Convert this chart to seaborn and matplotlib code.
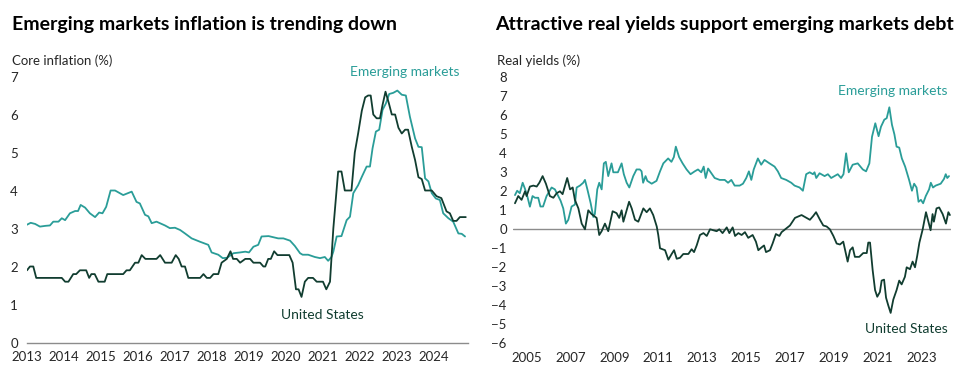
import matplotlib
matplotlib.use("Agg")
import matplotlib.pyplot as plt
import numpy as np
import seaborn as sns

# ---- Left panel: core inflation (%) ----
us_infl_t = [2013.0, 2013.08, 2013.17, 2013.25, 2013.94, 2014.03, 2014.12, 2014.25, 2014.33, 2014.43,
             2014.6, 2014.68, 2014.74, 2014.83, 2014.93, 2015.1, 2015.17, 2015.6, 2015.69, 2015.78,
             2015.92, 2016.01, 2016.1, 2016.2, 2016.5, 2016.6, 2016.73, 2016.91, 2017.02, 2017.1,
             2017.18, 2017.27, 2017.36, 2017.68, 2017.77, 2017.86, 2017.95, 2018.04, 2018.17, 2018.26,
             2018.4, 2018.5, 2018.57, 2018.67, 2018.76, 2018.9, 2019.03, 2019.12, 2019.3, 2019.39,
             2019.44, 2019.52, 2019.59, 2019.68, 2019.77, 2020.09, 2020.18, 2020.27, 2020.34, 2020.42,
             2020.51, 2020.6, 2020.73, 2020.83, 2021.0, 2021.09, 2021.19, 2021.28, 2021.41, 2021.5,
             2021.59, 2021.77, 2021.86, 2021.95, 2022.05, 2022.14, 2022.22, 2022.29, 2022.36, 2022.45,
             2022.54, 2022.61, 2022.69, 2022.78, 2022.86, 2022.95, 2023.04, 2023.13, 2023.22, 2023.3,
             2023.4, 2023.49, 2023.58, 2023.67, 2023.76, 2023.94, 2024.07, 2024.2, 2024.34, 2024.43,
             2024.52, 2024.61, 2024.7, 2024.86]
us_infl_v = [1.9, 2.0, 2.0, 1.7, 1.7, 1.6, 1.6, 1.8, 1.8, 1.9,
             1.9, 1.7, 1.8, 1.8, 1.6, 1.6, 1.8, 1.8, 1.9, 1.9,
             2.1, 2.1, 2.3, 2.2, 2.2, 2.3, 2.1, 2.1, 2.3, 2.2,
             2.0, 2.0, 1.7, 1.7, 1.8, 1.7, 1.7, 1.8, 1.8, 2.1,
             2.2, 2.4, 2.2, 2.2, 2.1, 2.2, 2.2, 2.1, 2.1, 2.0,
             2.0, 2.2, 2.2, 2.4, 2.3, 2.3, 2.1, 1.4, 1.4, 1.2,
             1.6, 1.7, 1.7, 1.6, 1.6, 1.4, 1.6, 3.0, 4.5, 4.5,
             4.0, 4.0, 5.0, 5.5, 6.1, 6.45, 6.5, 6.5, 6.0, 5.9,
             5.9, 6.25, 6.6, 6.3, 6.0, 6.0, 5.65, 5.5, 5.6, 5.6,
             5.15, 4.8, 4.35, 4.3, 4.0, 4.0, 3.85, 3.8, 3.45, 3.4,
             3.2, 3.2, 3.3, 3.3]

em_infl_t = [2013.0, 2013.1, 2013.22, 2013.35, 2013.5, 2013.62, 2013.71, 2013.85, 2013.94, 2014.03,
             2014.16, 2014.3, 2014.38, 2014.45, 2014.57, 2014.7, 2014.84, 2014.95, 2015.04, 2015.14,
             2015.26, 2015.38, 2015.6, 2015.83, 2015.96, 2016.05, 2016.19, 2016.28, 2016.37, 2016.5,
             2016.73, 2016.86, 2017.0, 2017.14, 2017.27, 2017.45, 2017.68, 2017.9, 2017.99, 2018.17,
             2018.29, 2018.41, 2018.58, 2018.76, 2018.9, 2019.0, 2019.12, 2019.25, 2019.34, 2019.53,
             2019.79, 2019.93, 2020.11, 2020.24, 2020.38, 2020.45, 2020.6, 2020.78, 2020.92, 2021.05,
             2021.14, 2021.23, 2021.28, 2021.37, 2021.5, 2021.64, 2021.73, 2021.82, 2021.95, 2022.05,
             2022.18, 2022.27, 2022.34, 2022.43, 2022.52, 2022.61, 2022.7, 2022.79, 2022.9, 2023.01,
             2023.13, 2023.24, 2023.35, 2023.49, 2023.58, 2023.67, 2023.76, 2023.85, 2023.94, 2024.05,
             2024.16, 2024.25, 2024.39, 2024.52, 2024.66, 2024.75, 2024.84]
em_infl_v = [3.1, 3.15, 3.12, 3.05, 3.07, 3.08, 3.18, 3.18, 3.27, 3.22,
             3.4, 3.46, 3.46, 3.62, 3.55, 3.4, 3.3, 3.42, 3.4, 3.57,
             4.0, 4.0, 3.88, 3.97, 3.7, 3.66, 3.36, 3.32, 3.14, 3.18,
             3.08, 3.01, 3.02, 2.96, 2.87, 2.74, 2.65, 2.57, 2.37, 2.31,
             2.22, 2.23, 2.35, 2.37, 2.39, 2.37, 2.52, 2.57, 2.79, 2.8,
             2.74, 2.74, 2.68, 2.54, 2.35, 2.31, 2.31, 2.25, 2.22, 2.25,
             2.15, 2.25, 2.39, 2.79, 2.8, 3.22, 3.31, 3.93, 4.14, 4.36,
             4.63, 4.63, 5.11, 5.55, 5.6, 6.12, 6.29, 6.54, 6.57, 6.63,
             6.52, 6.5, 5.94, 5.37, 5.15, 5.14, 4.32, 4.24, 3.93, 3.79,
             3.75, 3.4, 3.27, 3.18, 2.87, 2.86, 2.79]

# ---- Right panel: real yields (%) ----
em_yld_t = [2004.47, 2004.57, 2004.69, 2004.82, 2004.92, 2005.03, 2005.15, 2005.27, 2005.38, 2005.53,
            2005.63, 2005.75, 2005.91, 2006.14, 2006.29, 2006.44, 2006.55, 2006.67, 2006.79, 2006.9,
            2007.05, 2007.2, 2007.28, 2007.43, 2007.58, 2007.66, 2007.77, 2007.92, 2008.04, 2008.11,
            2008.22, 2008.31, 2008.42, 2008.52, 2008.61, 2008.72, 2008.87, 2008.95, 2009.16, 2009.33,
            2009.43, 2009.56, 2009.68, 2009.86, 2010.01, 2010.16, 2010.24, 2010.31, 2010.42, 2010.5,
            2010.7, 2010.92, 2011.08, 2011.23, 2011.45, 2011.6, 2011.71, 2011.8, 2011.95, 2012.11,
            2012.29, 2012.47, 2012.66, 2012.81, 2012.96, 2013.07, 2013.16, 2013.27, 2013.42, 2013.57,
            2013.8, 2014.03, 2014.18, 2014.33, 2014.48, 2014.71, 2014.86, 2015.01, 2015.13, 2015.24,
            2015.35, 2015.54, 2015.69, 2015.84, 2016.07, 2016.3, 2016.45, 2016.6, 2016.83, 2017.06,
            2017.21, 2017.44, 2017.59, 2017.74, 2017.9, 2018.05, 2018.12, 2018.2, 2018.35, 2018.58,
            2018.73, 2018.88, 2019.03, 2019.18, 2019.33, 2019.44, 2019.56, 2019.68, 2019.86, 2020.09,
            2020.32, 2020.47, 2020.62, 2020.74, 2020.89, 2021.04, 2021.15, 2021.3, 2021.41, 2021.53,
            2021.65, 2021.76, 2021.86, 2021.98, 2022.1, 2022.25, 2022.43, 2022.56, 2022.66, 2022.77,
            2022.86, 2022.97, 2023.07, 2023.19, 2023.34, 2023.42, 2023.52, 2023.64, 2023.87, 2024.02,
            2024.1, 2024.17, 2024.25]
em_yld_v = [1.8, 2.03, 1.9, 2.45, 2.15, 1.75, 1.19, 1.75, 1.66, 1.66,
            1.2, 1.2, 1.75, 2.2, 2.1, 1.75, 1.5, 1.1, 0.3, 0.5,
            1.2, 1.3, 2.2, 2.3, 2.45, 2.6, 2.1, 1.37, 0.65, 0.8,
            2.1, 2.45, 2.1, 3.47, 3.55, 2.8, 3.47, 3.0, 3.0, 3.47,
            2.9, 2.45, 2.2, 2.8, 3.15, 3.15, 3.05, 2.45, 2.8, 2.55,
            2.4, 2.55, 3.05, 3.47, 3.73, 3.55, 3.8, 4.35, 3.8, 3.47,
            3.15, 2.9, 3.05, 3.15, 3.0, 3.3, 2.7, 3.2, 2.95, 2.7,
            2.6, 2.6, 2.45, 2.6, 2.3, 2.3, 2.4, 2.7, 3.05, 2.6,
            3.15, 3.73, 3.4, 3.65, 3.47, 3.3, 3.05, 2.7, 2.6, 2.45,
            2.3, 2.2, 2.03, 2.9, 3.0, 2.9, 3.0, 2.7, 2.95, 2.8,
            2.9, 2.7, 2.8, 2.9, 2.7, 2.9, 4.0, 3.0, 3.4, 3.47,
            3.15, 3.05, 3.47, 4.87, 5.58, 4.9, 5.4, 5.77, 5.85, 6.42,
            5.5, 5.0, 4.35, 4.3, 3.73, 3.3, 2.6, 2.03, 2.4, 2.2,
            1.45, 1.55, 1.37, 1.75, 2.1, 2.45, 2.2, 2.3, 2.4, 2.65,
            2.9, 2.7, 2.8]

us_yld_t = [2004.47, 2004.62, 2004.77, 2004.93, 2005.0, 2005.15, 2005.31, 2005.46, 2005.58, 2005.73,
            2005.88, 2006.06, 2006.22, 2006.37, 2006.52, 2006.64, 2006.85, 2006.98, 2007.1, 2007.2,
            2007.36, 2007.51, 2007.66, 2007.81, 2007.96, 2008.19, 2008.31, 2008.42, 2008.57, 2008.72,
            2008.92, 2009.1, 2009.22, 2009.33, 2009.41, 2009.67, 2009.79, 2009.94, 2010.09, 2010.32,
            2010.47, 2010.62, 2010.77, 2010.93, 2011.0, 2011.08, 2011.31, 2011.46, 2011.61, 2011.72,
            2011.84, 2011.99, 2012.14, 2012.37, 2012.52, 2012.63, 2012.75, 2012.9, 2013.06, 2013.21,
            2013.36, 2013.51, 2013.66, 2013.78, 2013.93, 2014.12, 2014.24, 2014.39, 2014.5, 2014.65,
            2014.8, 2014.95, 2015.1, 2015.3, 2015.45, 2015.56, 2015.71, 2015.82, 2015.91, 2016.09,
            2016.21, 2016.36, 2016.52, 2016.62, 2016.78, 2017.0, 2017.23, 2017.53, 2017.76, 2017.91,
            2018.06, 2018.19, 2018.37, 2018.52, 2018.67, 2018.82, 2018.98, 2019.13, 2019.28, 2019.43,
            2019.63, 2019.74, 2019.86, 2019.96, 2020.16, 2020.34, 2020.5, 2020.57, 2020.65, 2020.77,
            2020.88, 2020.98, 2021.1, 2021.18, 2021.29, 2021.38, 2021.48, 2021.59, 2021.71, 2021.86,
            2021.98, 2022.09, 2022.24, 2022.32, 2022.47, 2022.59, 2022.7, 2022.8, 2022.9, 2023.05,
            2023.2, 2023.31, 2023.41, 2023.5, 2023.56, 2023.68, 2023.8, 2023.96, 2024.11, 2024.22,
            2024.29]
us_yld_v = [1.37, 1.75, 1.55, 2.0, 1.75, 2.25, 2.3, 2.25, 2.45, 2.8,
            2.4, 1.75, 1.66, 1.9, 2.0, 1.85, 2.7, 2.1, 2.2, 1.55,
            1.1, 0.3, 0.0, 1.0, 0.8, 0.6, -0.3, -0.1, 0.3, -0.1,
            0.95, 0.85, 0.6, 1.0, 0.4, 1.45, 1.1, 0.5, 0.4, 1.1,
            0.9, 1.1, 0.75, 0.15, -0.3, -1.0, -1.1, -1.6, -1.3, -1.1,
            -1.55, -1.5, -1.3, -1.3, -1.05, -1.2, -0.85, -0.3, -0.2, -0.35,
            0.0, -0.05, -0.1, 0.0, -0.2, 0.1, -0.2, 0.1, -0.35, -0.2,
            -0.3, -0.15, -0.45, -0.3, -0.65, -1.1, -0.95, -0.85, -1.2, -1.1,
            -0.75, -0.25, -0.35, -0.15, 0.0, 0.2, 0.6, 0.75, 0.6, 0.5,
            0.7, 0.9, 0.5, 0.2, 0.15, 0.0, -0.35, -0.75, -0.8, -0.65,
            -1.7, -1.1, -0.95, -1.45, -1.45, -1.25, -1.25, -0.7, -0.7, -2.15,
            -3.2, -3.55, -3.3, -2.7, -2.65, -3.6, -4.0, -4.4, -3.7, -3.2,
            -2.7, -2.9, -2.5, -2.0, -2.1, -1.7, -2.0, -1.4, -0.7, 0.0,
            0.9, 0.4, -0.05, 0.8, 0.4, 1.1, 1.15, 0.8, 0.3, 0.9,
            0.75]

left_xticks = list(range(2013, 2025))
right_xticks = list(range(2005, 2024, 2))
left_yticks = list(range(0, 8))
right_yticks = list(range(-6, 9))

TEAL = "#2a9d98"
DARK = "#113d30"
GRAY = "#8c8c8c"

sns.set_style("white")
plt.rcParams["font.family"] = ["Lato", "DejaVu Sans"]

W, H = 960, 370
fig = plt.figure(figsize=(9.6, 3.7), dpi=100)


def frac_box(x0, y_top, x1, y_bot):
    return [x0 / W, (H - y_bot) / H, (x1 - x0) / W, (y_bot - y_top) / H]


# Left chart
ax1 = fig.add_axes(frac_box(27, 76.5, 468, 342.5))
sns.lineplot(x=em_infl_t, y=em_infl_v, ax=ax1, color=TEAL, lw=1.3, estimator=None, sort=False)
sns.lineplot(x=us_infl_t, y=us_infl_v, ax=ax1, color=DARK, lw=1.3, estimator=None, sort=False)
ax1.set_xlim(2013, 2024.92)
ax1.set_ylim(0, 7)
ax1.set_xticks(left_xticks)
ax1.set_yticks(left_yticks)
ax1.tick_params(axis="y", length=0, pad=6.5, labelsize=9.5)
ax1.tick_params(axis="x", length=0, pad=6, labelsize=9.5)
for s in ["top", "right", "left"]:
    ax1.spines[s].set_visible(False)
ax1.spines["bottom"].set_color(GRAY)
ax1.spines["bottom"].set_linewidth(1)
ax1.text(2021.73, 7.12, "Emerging markets", color=TEAL, fontsize=10, va="center", ha="left",
         clip_on=False)
ax1.text(2019.86, 0.72, "United States", color=DARK, fontsize=10, va="center", ha="left")

# Right chart
ax2 = fig.add_axes(frac_box(513, 77.3, 951, 343.3))
ax2.axhline(0, color=GRAY, lw=1)
sns.lineplot(x=em_yld_t, y=em_yld_v, ax=ax2, color=TEAL, lw=1.3, estimator=None, sort=False)
sns.lineplot(x=us_yld_t, y=us_yld_v, ax=ax2, color=DARK, lw=1.3, estimator=None, sort=False)
ax2.set_xlim(2004.38, 2024.34)
ax2.set_ylim(-6, 8)
ax2.set_xticks(right_xticks)
ax2.set_yticks(right_yticks)
ax2.tick_params(axis="y", length=0, pad=4.5, labelsize=9.5)
ax2.tick_params(axis="x", length=0, pad=6, labelsize=9.5)
for s in ["top", "right", "left", "bottom"]:
    ax2.spines[s].set_visible(False)
ax2.text(2024.2, 7.28, "Emerging markets", color=TEAL, fontsize=10, va="center", ha="right")
ax2.text(2024.2, -5.26, "United States", color=DARK, fontsize=10, va="center", ha="right")

for ax in (ax1, ax2):
    ax.set_xlabel("")
    ax.set_ylabel("")
    ax.grid(False)
    ax.patch.set_alpha(0)

# Titles and axis captions
fig.text(12 / W, (H - 30) / H, "Emerging markets inflation is trending down",
         fontsize=14, fontweight="bold", va="baseline", ha="left", color="black")
fig.text(495 / W, (H - 30) / H, "Attractive real yields support emerging markets debt",
         fontsize=14, fontweight="bold", va="baseline", ha="left", color="black")
fig.text(12 / W, (H - 65) / H, "Core inflation (%)", fontsize=9.5, va="baseline", ha="left")
fig.text(497 / W, (H - 65) / H, "Real yields (%)", fontsize=9.5, va="baseline", ha="left")

fig.savefig("out.png", dpi=100)
